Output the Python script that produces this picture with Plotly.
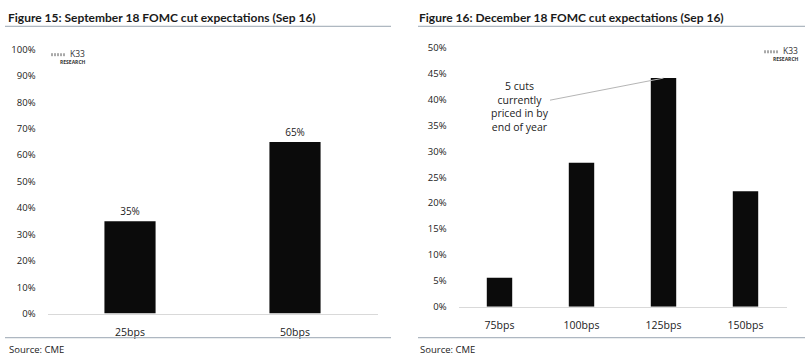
import plotly.graph_objects as go

W, H = 811, 363

# ---- data ----
left_title = "Figure 15: September 18 FOMC cut expectations (Sep 16)"
left_categories = ["25bps", "50bps"]
left_values = [35, 65]
left_ticks = [0, 10, 20, 30, 40, 50, 60, 70, 80, 90, 100]

right_title = "Figure 16: December 18 FOMC cut expectations (Sep 16)"
right_categories = ["75bps", "100bps", "125bps", "150bps"]
right_values = [5.6, 27.8, 44.1, 22.3]
right_ticks = [0, 5, 10, 15, 20, 25, 30, 35, 40, 45, 50]

annotation_text = "5 cuts<br>currently<br>priced in by<br>end of year"
source_text = "Source: CME"

FONT = "Open Sans"
TITLE_FONT = "Lato"
TXT = "#222222"
RULE = "#9aa5b1"


def px(x):
    return x / W


def py(y):
    return 1 - y / H


fig = go.Figure()
fig.add_trace(go.Bar(
    x=left_categories, y=left_values, marker=dict(color="#0b0b0b", line=dict(width=0)),
    text=[f"{v}%" for v in left_values], textposition="outside",
    textfont=dict(size=10, color=TXT, family=FONT), cliponaxis=False,
    xaxis="x", yaxis="y", showlegend=False))
fig.add_trace(go.Bar(
    x=right_categories, y=right_values, marker=dict(color="#0b0b0b", line=dict(width=0)),
    xaxis="x2", yaxis="y2", showlegend=False))

ytick_font = dict(size=9.5, color=TXT, family=FONT)
xtick_font = dict(size=10.5, color=TXT, family=FONT)

fig.update_layout(
    width=W, height=H, margin=dict(l=0, r=0, t=0, b=0),
    paper_bgcolor="white", plot_bgcolor="white", bargap=0.69,
    font=dict(family=FONT, color=TXT),
    xaxis=dict(domain=[px(47.5), px(377.5)], anchor="y", showline=True, showgrid=False,
               zeroline=False, ticks="", linecolor="#d9d9d9", linewidth=1,
               ticklabelstandoff=9, tickfont=xtick_font),
    yaxis=dict(domain=[py(318), py(44)], anchor="x", range=[0, 100], showgrid=False,
               zeroline=False, ticks="", tickvals=left_ticks,
               ticktext=[f"{t}%" for t in left_ticks],
               showline=False, ticklabelstandoff=11, tickfont=ytick_font),
    xaxis2=dict(domain=[px(458.5), px(786.5)], anchor="y2", showline=True, showgrid=False,
                zeroline=False, ticks="", linecolor="#d9d9d9", linewidth=1,
                ticklabelstandoff=9, tickfont=xtick_font),
    yaxis2=dict(domain=[py(311), py(42)], anchor="x2", range=[0, 50], showgrid=False,
                zeroline=False, ticks="", tickvals=right_ticks,
                ticktext=[f"{t}%" for t in right_ticks],
                showline=False, ticklabelstandoff=11, tickfont=ytick_font),
)

# titles and sources
for x0, t in [(6, left_title), (417, right_title)]:
    fig.add_annotation(x=px(x0), y=py(11), xref="paper", yref="paper", text=f"<b>{t}</b>",
                       showarrow=False, xanchor="left", yanchor="middle",
                       font=dict(size=12, color="#1a1a1a", family=TITLE_FONT))
    fig.add_annotation(x=px(x0 + 1), y=py(355), xref="paper", yref="paper", text=source_text,
                       showarrow=False, xanchor="left", yanchor="middle",
                       font=dict(size=9.5, color=TXT, family=FONT))

# rules
for (x0, x1) in [(5, 391), (418, 805)]:
    for yy in (20, 343):
        fig.add_shape(type="line", xref="paper", yref="paper", x0=px(x0), x1=px(x1),
                      y0=py(yy), y1=py(yy), line=dict(color=RULE, width=1))

# logos (text + small bar icon)
for (xr, yk, yr) in [(87, 48, 57), (800, 45, 54)]:
    fig.add_annotation(x=px(xr), y=py(yk), xref="paper", yref="paper", text="K33",
                       showarrow=False, xanchor="right", yanchor="middle",
                       font=dict(size=8.5, color="#333333", family=FONT))
    fig.add_annotation(x=px(xr + 1), y=py(yr), xref="paper", yref="paper", text="<b>RESEARCH</b>",
                       showarrow=False, xanchor="right", yanchor="middle",
                       font=dict(size=5, color="#333333", family=FONT))
    ix = xr - 35
    for k, hgt in enumerate([6, 6, 4, 3, 3]):
        xx = ix + k * 3
        fig.add_shape(type="line", xref="paper", yref="paper", x0=px(xx), x1=px(xx),
                      y0=py(yk + 3), y1=py(yk + 3 - hgt),
                      line=dict(color="#555555", width=1, dash="dot"))

# annotation on right chart
fig.add_annotation(x="125bps", y=right_values[2], xref="x2", yref="y2",
                   text=annotation_text, showarrow=True, arrowhead=0, arrowwidth=1,
                   arrowcolor="#b5b5b5", ax=-144, ay=28, standoff=0,
                   align="center", font=dict(size=10.5, color=TXT, family=FONT))

post = (
    "document.documentElement.style.margin='0';document.documentElement.style.padding='0';"
    "document.documentElement.style.overflow='hidden';"
    "document.body.style.margin='0';document.body.style.padding='0';"
    "document.body.style.overflow='hidden';"
    "var d=document.getElementById('{plot_id}');"
    "d.style.position='fixed';d.style.top='0px';d.style.left='0px';"
)
fig.write_html("out.html", config={"displayModeBar": False}, post_script=post)
